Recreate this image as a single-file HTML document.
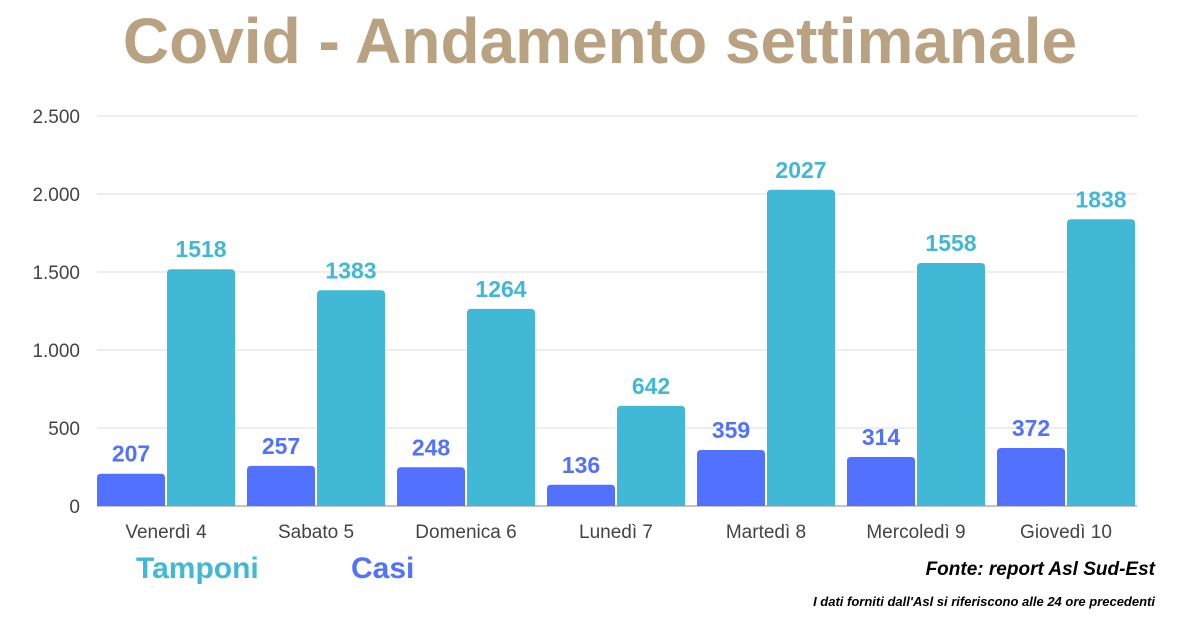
<!DOCTYPE html>
<html><head><meta charset="utf-8"><style>
body{margin:0;background:#fff;width:1200px;height:630px;overflow:hidden;font-family:"Liberation Sans",sans-serif}
</style></head><body>
<svg width="1200" height="630">
<text x="600" y="63" text-anchor="middle" font-size="64" font-weight="bold" fill="#b9a281">Covid - Andamento settimanale</text>
<g id="grid"></g><g id="bars"></g>
<text x="136" y="578" font-size="30" font-weight="bold" fill="#41b8d6">Tamponi</text>
<text x="351" y="578" font-size="30" font-weight="bold" fill="#5271ff">Casi</text>
<text x="1155" y="575" text-anchor="end" font-size="19" font-weight="bold" font-style="italic" fill="#000">Fonte: report Asl Sud-Est</text>
<text x="1155" y="606" text-anchor="end" font-size="13" font-weight="bold" font-style="italic" fill="#000">I dati forniti dall'Asl si riferiscono alle 24 ore precedenti</text>
</svg>
<script>
const categories=["Venerdì 4","Sabato 5","Domenica 6","Lunedì 7","Martedì 8","Mercoledì 9","Giovedì 10"];
const casi=[207,257,248,136,359,314,372];
const tamponi=[1518,1383,1264,642,2027,1558,1838];
const ticks=[0,500,1000,1500,2000,2500];
const tickLabels=["0","500","1.000","1.500","2.000","2.500"];
const NS="http://www.w3.org/2000/svg";
const y0=506,yMax=2500,yTop=116,x0=97,gw=150,bw=68;
const y=v=>y0-(v/yMax)*(y0-yTop);
function mk(t,a,p){const e=document.createElementNS(NS,t);for(const k in a)e.setAttribute(k,a[k]);p.appendChild(e);return e;}
const g=document.getElementById('grid'),b=document.getElementById('bars');
ticks.forEach((t,i)=>{
 const l=mk('line',{x1:97,x2:1137,y1:y(t),y2:y(t),stroke:i==0?'#888':'#ddd','stroke-width':1},g);
 
 
 const tx=mk('text',{x:80,y:y(t)+7,'text-anchor':'end','font-size':19,fill:'#444'},g);
 tx.textContent=tickLabels[i];
 
 
});
function bar(x,v,c,name){
 const h=y0-y(v),r=4;
 const p=mk('path',{d:`M${x},${y0}V${y(v)+r}Q${x},${y(v)} ${x+r},${y(v)}H${x+bw-r}Q${x+bw},${y(v)} ${x+bw},${y(v)+r}V${y0}Z`,fill:c},b);
 
 
 const t=mk('text',{x:x+bw/2,y:y(v)-12,'text-anchor':'middle','font-size':23,'font-weight':'bold',fill:c},b);
 t.textContent=v;
 
 
}
categories.forEach((c,i)=>{
 const gx=x0+i*gw;
 bar(gx,casi[i],'#5271ff','bar-casi');
 bar(gx+bw+2,tamponi[i],'#41b8d6','bar-tamponi');
 const t=mk('text',{x:gx+bw+1,y:538,'text-anchor':'middle','font-size':19,fill:'#444'},b);
 t.textContent=c;
 
 
});
</script>
</body></html>
